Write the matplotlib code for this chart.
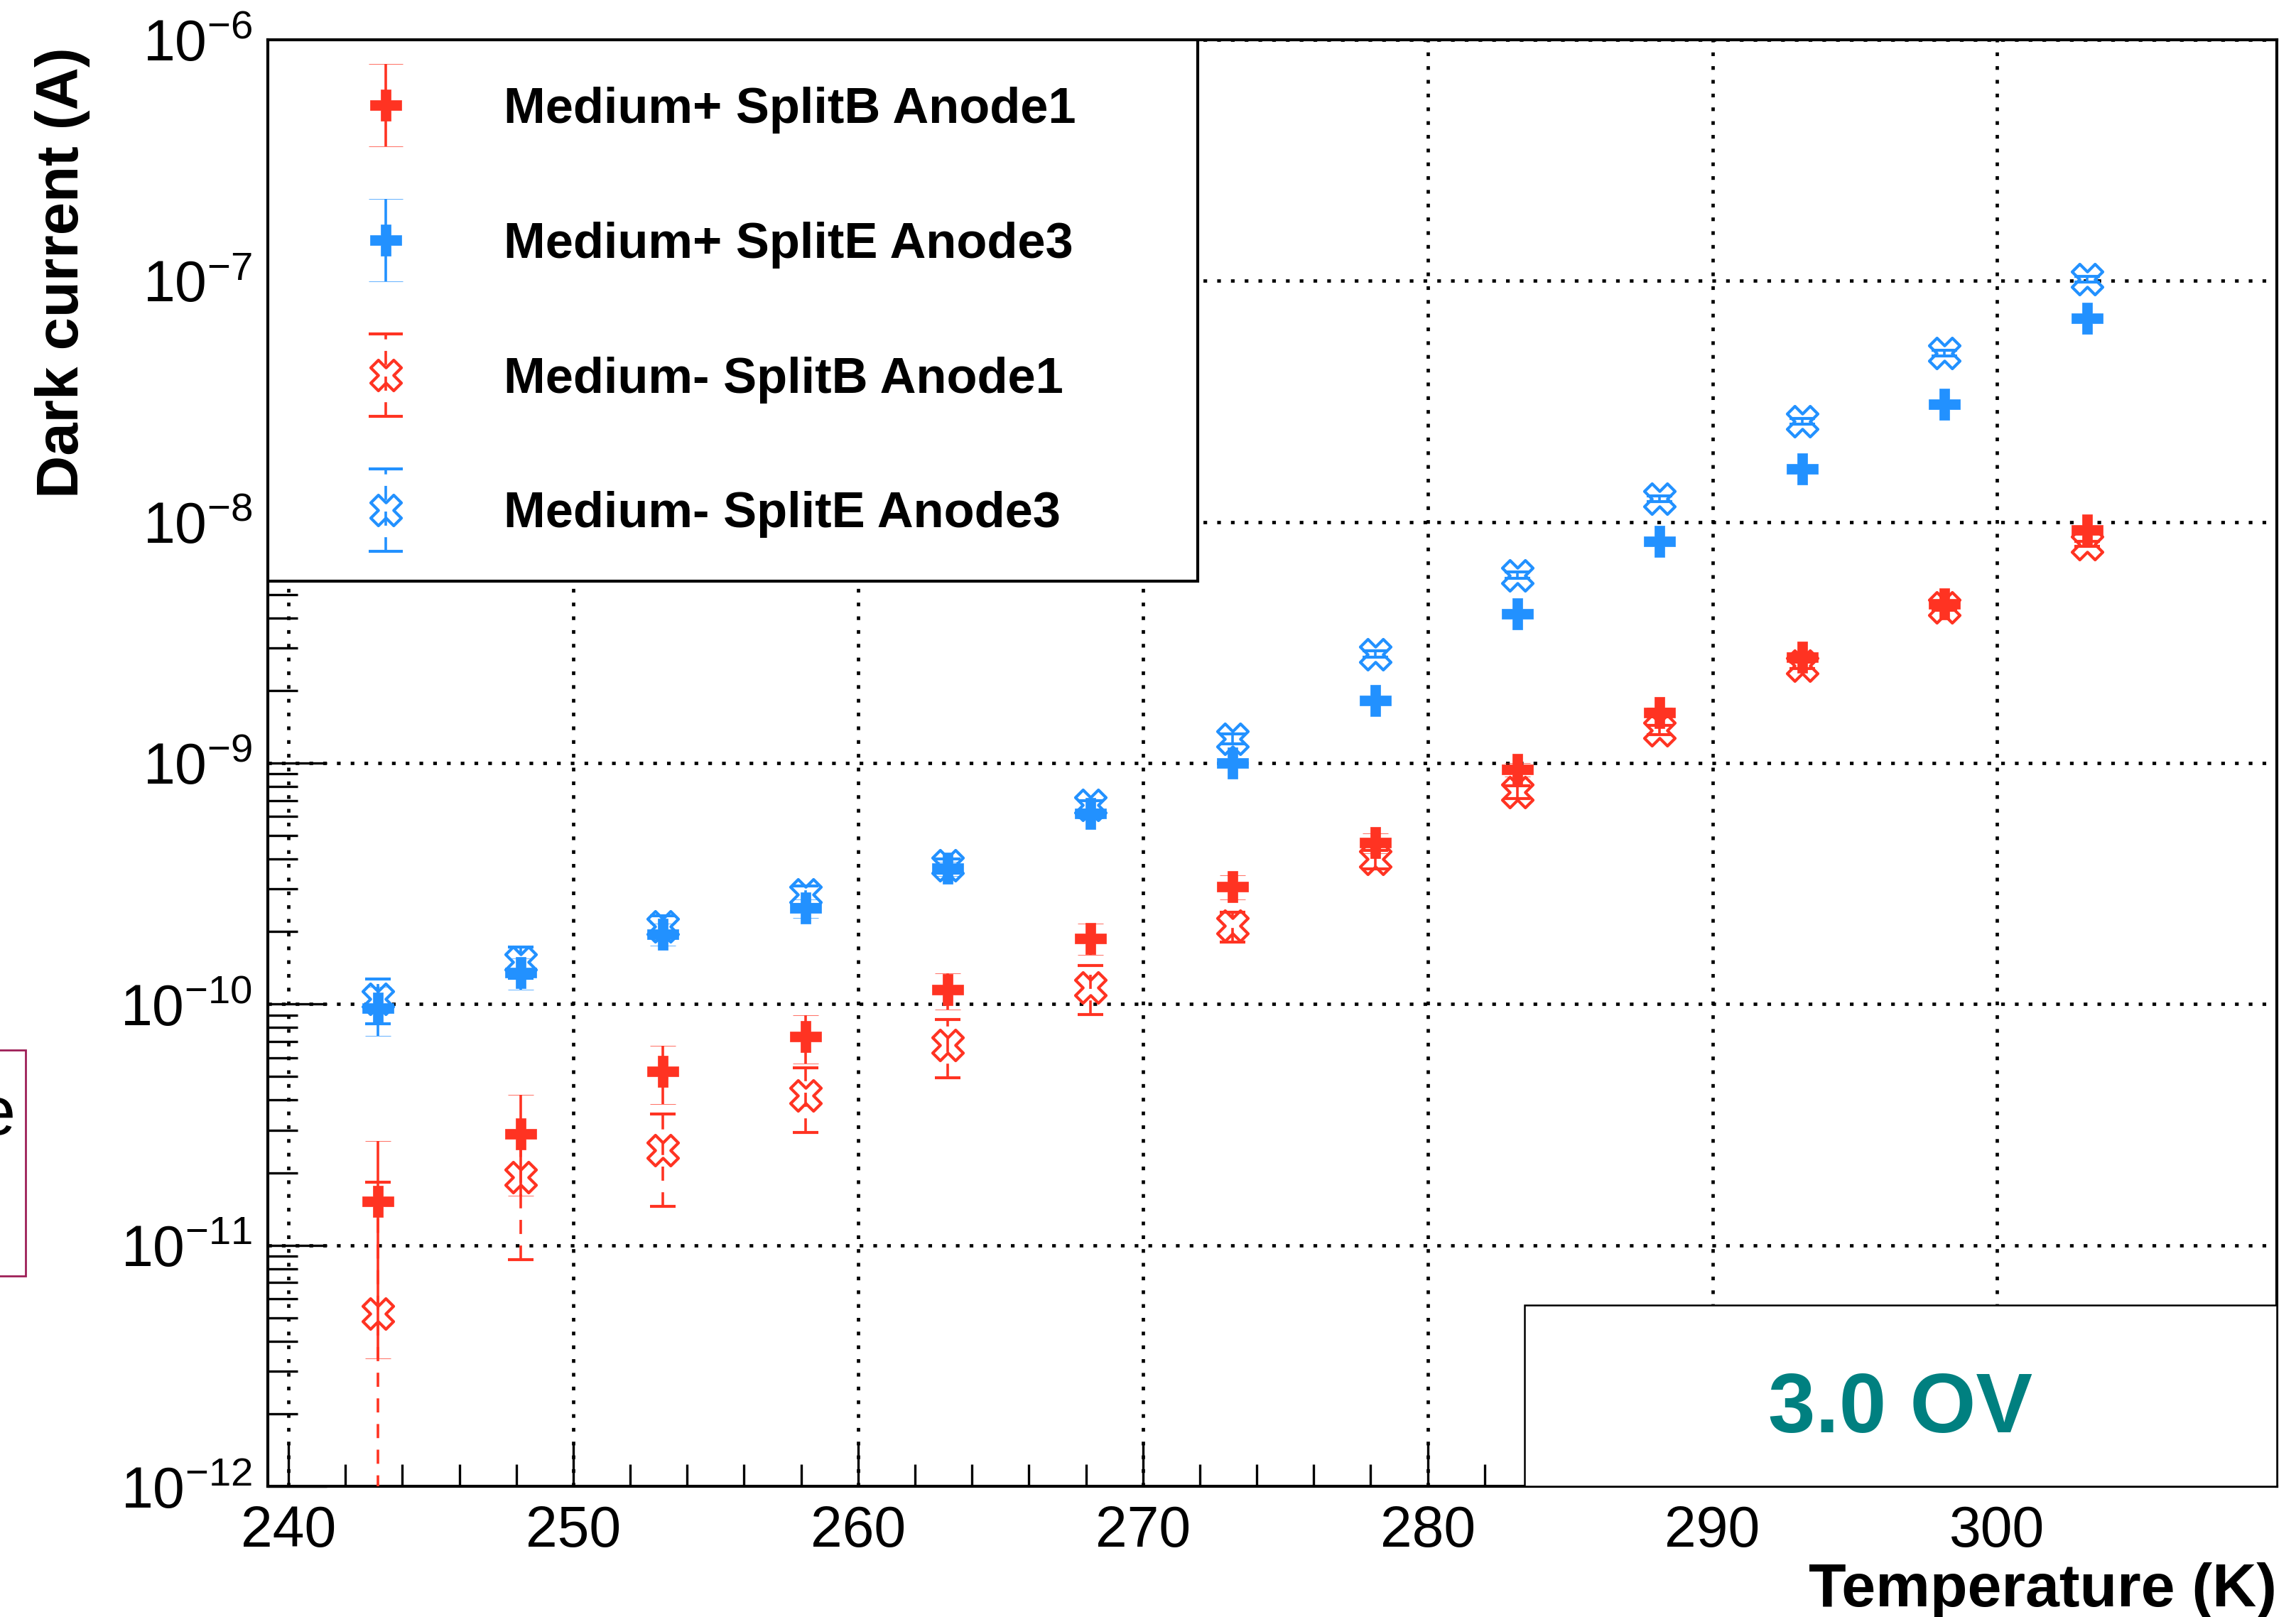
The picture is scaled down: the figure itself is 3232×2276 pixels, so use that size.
import numpy as np
import matplotlib
matplotlib.use('Agg')
import matplotlib.pyplot as plt
from matplotlib.path import Path
from matplotlib.patches import Rectangle
from matplotlib.lines import Line2D
from matplotlib.container import ErrorbarContainer
from matplotlib.legend_handler import HandlerErrorbar
from matplotlib.ticker import MultipleLocator, LogLocator, NullFormatter

plt.rcParams['font.family'] = ['Liberation Sans', 'DejaVu Sans']
plt.rcParams['mathtext.fontset'] = 'custom'
plt.rcParams['mathtext.rm'] = 'Liberation Sans'
plt.rcParams['mathtext.it'] = 'Liberation Sans:italic'
plt.rcParams['mathtext.bf'] = 'Liberation Sans:bold'
plt.rcParams['mathtext.default'] = 'rm'

# temperatures (K), -30 C ... +30 C in 5 C steps
temperature = [243.15, 248.15, 253.15, 258.15, 263.15, 268.15, 273.15,
               278.15, 283.15, 288.15, 293.15, 298.15, 303.15]

# dark current (A) and errors
mp_splitb = [1.52e-11, 2.90e-11, 5.27e-11, 7.33e-11, 1.146e-10, 1.876e-10, 3.07e-10,
             4.67e-10, 9.41e-10, 1.62e-9, 2.75e-9, 4.56e-9, 9.25e-9]
mp_splitb_err = [1.18e-11, 1.30e-11, 1.43e-11, 1.65e-11, 1.95e-11, 2.8e-11, 3.5e-11,
                 4.5e-11, 6e-11, 8e-11, 1.2e-10, 1.8e-10, 3e-10]

mp_splite = [9.6e-11, 1.35e-10, 1.95e-10, 2.50e-10, 3.65e-10, 6.18e-10, 1.0e-9,
             1.815e-9, 4.15e-9, 8.3e-9, 1.663e-8, 3.07e-8, 7.0e-8]
mp_splite_err = [2.2e-11, 2.0e-11, 2.0e-11, 2.2e-11, 2.5e-11, 3e-11, 4e-11,
                 5e-11, 8e-11, 1.2e-10, 2e-10, 3e-10, 5e-10]

mm_splitb = [5.2e-12, 1.92e-11, 2.47e-11, 4.19e-11, 6.78e-11, 1.175e-10, 2.11e-10,
             3.99e-10, 7.57e-10, 1.37e-9, 2.54e-9, 4.43e-9, 8.1e-9]
mm_splitb_err = [1.3e-11, 1.05e-11, 1.02e-11, 1.25e-11, 1.83e-11, 2.7e-11, 3e-11,
                 3.5e-11, 4.5e-11, 6e-11, 8e-11, 1.2e-10, 2e-10]

mm_splite = [1.05e-10, 1.50e-10, 2.10e-10, 2.84e-10, 3.75e-10, 6.68e-10, 1.262e-9,
             2.83e-9, 6.01e-9, 1.245e-8, 2.62e-8, 5.02e-8, 1.015e-7]
mm_splite_err = [2.2e-11, 2.2e-11, 2.2e-11, 2.5e-11, 2.5e-11, 3e-11, 5.8e-11,
                 8e-11, 1.8e-10, 3.5e-10, 7e-10, 1.3e-9, 2.5e-9]

labels = ['Medium+ SplitB Anode1', 'Medium+ SplitE Anode3',
          'Medium- SplitB Anode1', 'Medium- SplitE Anode3']

red = '#ff3322'
blue = '#2291ff'


def closed_path(verts):
    verts = list(verts) + [verts[0]]
    codes = [Path.MOVETO] + [Path.LINETO] * (len(verts) - 2) + [Path.CLOSEPOLY]
    return Path(verts, codes)


# ROOT marker 34 (full cross) and 46 (open cross X)
t = 1.0 / 3.0
full_cross = closed_path([(-1, t), (-t, t), (-t, 1), (t, 1), (t, t), (1, t),
                          (1, -t), (t, -t), (t, -1), (-t, -1), (-t, -t), (-1, -t)])
open_cross_x = closed_path([(0, .5), (.5, 1), (1, .5), (.5, 0), (1, -.5), (.5, -1),
                            (0, -.5), (-.5, -1), (-1, -.5), (-.5, 0), (-1, .5), (-.5, 1)])


class RootErrHandler(HandlerErrorbar):
    # wider end caps in the legend, like the ROOT TLegend
    def create_artists(self, legend, orig_handle, xdescent, ydescent, width,
                       height, fontsize, trans):
        artists = super().create_artists(legend, orig_handle, xdescent, ydescent,
                                         width, height, fontsize, trans)
        for art in artists:
            if isinstance(art, Line2D) and art.get_marker() == '_':
                art.set_markersize(34)
        return artists


fig = plt.figure(figsize=(32.32, 22.76), dpi=100)
ax = fig.add_axes([0.1167, 0.0808, 0.875, 0.8947])

ax.set_yscale('log')
ax.set_xlim(239.28, 309.82)
ax.set_ylim(1e-12, 1e-6)


def draw_series(y, err, color, filled, dashed):
    if filled:
        eb = ax.errorbar(temperature, y, yerr=err, linestyle='none', marker=full_cross,
                         ms=31, mfc=color, mec=color, mew=0.5, ecolor=color,
                         elinewidth=2.6, capsize=13, capthick=3, zorder=3)
    else:
        eb = ax.errorbar(temperature, y, yerr=err, linestyle='none', marker=open_cross_x,
                         ms=31, mfc='none', mec=color, mew=3, ecolor=color,
                         elinewidth=2.6, capsize=13, capthick=3, zorder=3)
    if dashed:
        eb.lines[2][0].set_linestyle((0, (5.5, 4.5)))
    return eb


handles = [draw_series(mp_splitb, mp_splitb_err, red, True, False),
           draw_series(mp_splite, mp_splite_err, blue, True, False),
           draw_series(mm_splitb, mm_splitb_err, red, False, True),
           draw_series(mm_splite, mm_splite_err, blue, False, True)]

# ticks
ax.set_xticks(range(240, 301, 10))
ax.xaxis.set_minor_locator(MultipleLocator(2))
ax.yaxis.set_major_locator(LogLocator(base=10, numticks=20))
ax.yaxis.set_minor_locator(LogLocator(base=10, subs=range(2, 10), numticks=20))
ax.yaxis.set_minor_formatter(NullFormatter())
ax.tick_params(axis='x', which='major', direction='in', length=44, width=2.4,
               labelsize=58, pad=18.5, top=False)
ax.tick_params(axis='x', which='minor', direction='in', length=22, width=2.4, top=False)
ax.tick_params(axis='y', which='major', direction='in', length=60, width=2.4,
               labelsize=58, pad=16, right=False)
ax.tick_params(axis='y', which='minor', direction='in', length=30, width=2.4, right=False)
for sp in ax.spines.values():
    sp.set_linewidth(3)

ax.set_axisbelow(True)
ax.grid(True, which='major', color='black', linestyle=(0, (1.1, 3)), linewidth=3.4)

ax.set_xlabel('Temperature (K)', fontsize=62, fontweight='bold', loc='right')
ax.xaxis.set_label_coords(1.0, -0.0525)
ax.set_ylabel('Dark current (A)', fontsize=60, fontweight='bold', loc='top')
ax.yaxis.set_label_coords(-0.0885, 0.995)

# legend box
ax.add_patch(Rectangle((0, 0.6255), 0.4628, 0.3745, transform=ax.transAxes,
                       facecolor='white', edgecolor='black', lw=3, zorder=4))
leg = ax.legend(handles, labels, loc='upper left', bbox_to_anchor=(0, 0.9675),
                frameon=False, borderpad=0, borderaxespad=0, numpoints=1,
                handlelength=4.69, handletextpad=0.02, labelspacing=1.755,
                prop={'size': 50.8, 'weight': 'bold'},
                handler_map={ErrorbarContainer: RootErrHandler(yerr_size=0.82)})
leg.set_zorder(5)

# overvoltage box
ax.add_patch(Rectangle((0.6254, 0), 0.3746, 0.1255, transform=ax.transAxes,
                       facecolor='white', edgecolor='black', lw=1.8, zorder=4))
ax.text(0.8127, 0.0373, '3.0 OV', transform=ax.transAxes, ha='center', va='baseline',
        fontsize=86, fontweight='bold', color='#008080', zorder=5)

# piece of a neighbouring pad cut at the left edge
fig.add_artist(Rectangle((-0.01, 0.2109), 0.0211, 0.1397, transform=fig.transFigure,
                         fill=False, edgecolor='#9e1f57', lw=2))
fig.text(0.0068, 1 - 1597 / 2276, 'e', ha='right', va='baseline', fontsize=70)

fig.savefig('out.png', dpi=100)
